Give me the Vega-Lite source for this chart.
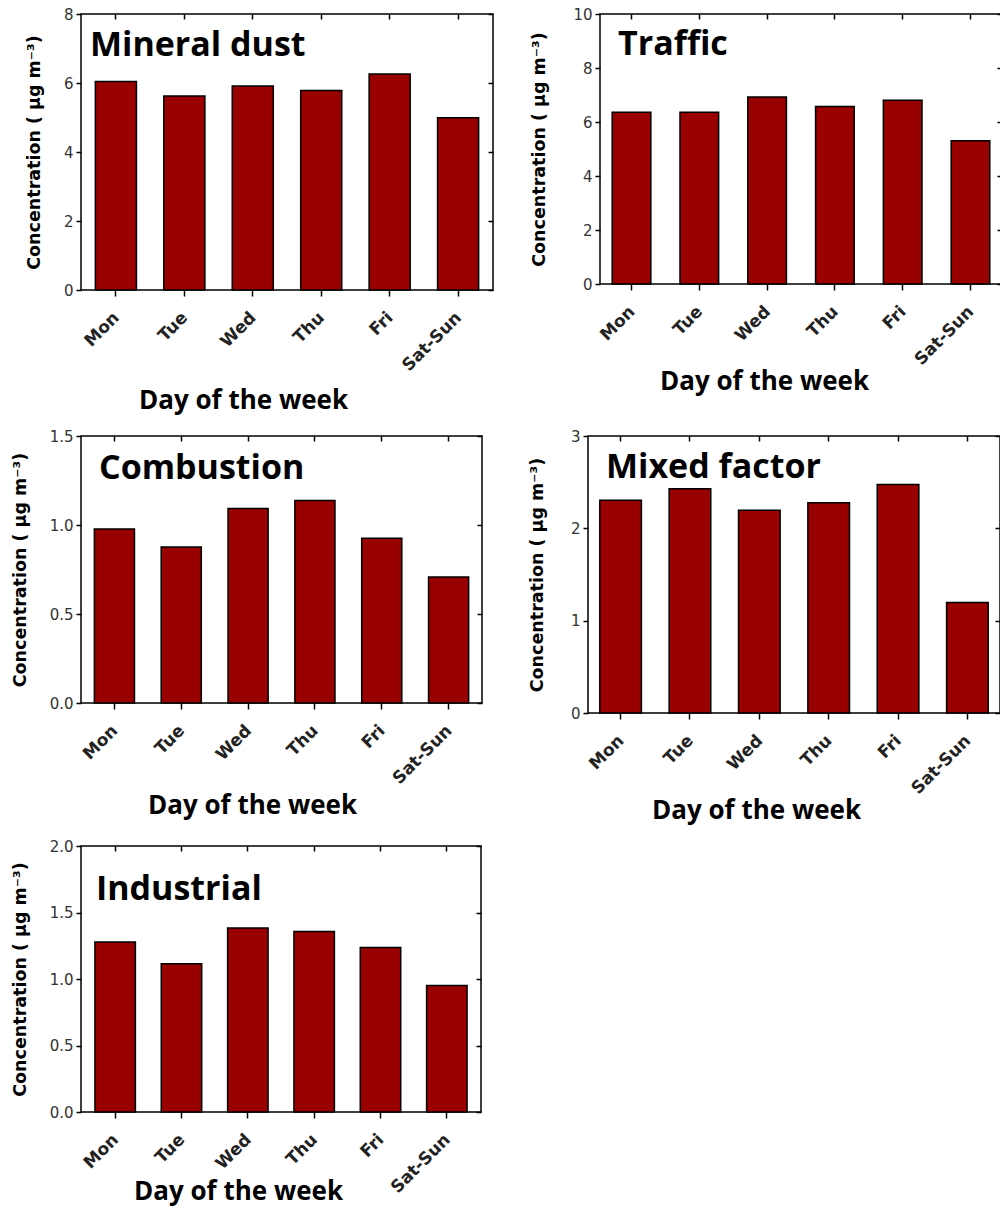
{
  "$schema": "https://vega.github.io/schema/vega-lite/v6.json",
  "padding": {"left": 10, "top": 6, "right": 0, "bottom": 0},
  "background": "white",
  "config": {
    "view": {"stroke": "#000", "strokeWidth": 1.5},
    "axis": {"grid": false, "domain": false, "tickColor": "#000", "tickWidth": 1.5, "labelFont": "DejaVu Sans", "labelColor": "#333", "titleColor": "#000"},
    "axisBottom": {"labelAngle": -45, "labelFontWeight": "bold", "labelFontSize": 17, "labelColor": "#222", "labelPadding": 13, "labelOffset": -5, "tickSize": 6, "titleFont": "Open Sans", "titleFontSize": 26, "titleFontWeight": "bold"},
    "axisLeft": {"labelFontSize": 15, "labelPadding": 3, "tickSize": 5, "titleFont": "DejaVu Sans", "titleFontSize": 17.5, "titleFontWeight": "bold"},
    "axisTop": {"labels": false, "tickSize": -5},
    "axisRight": {"labels": false, "tickSize": -5},
    "bar": {"color": "#990000", "stroke": "#000", "strokeWidth": 1.5},
    "title": {"font": "Open Sans", "fontWeight": "bold", "fontSize": 34, "color": "#000", "anchor": "start", "frame": "group", "orient": "top", "offset": 0, "baseline": "alphabetic"}
  },
  "columns": 1,
  "align": "none",
  "spacing": 13,
  "concat": [
    {
      "spacing": 35,
      "hconcat": [
        {
          "width": 412, "height": 276,
          "title": {"text": "Mineral dust", "dx": 9, "dy": 60},
          "data": {"values": [
            {"day": "Mon", "value": 6.04}, {"day": "Tue", "value": 5.62}, {"day": "Wed", "value": 5.91},
            {"day": "Thu", "value": 5.78}, {"day": "Fri", "value": 6.26}, {"day": "Sat-Sun", "value": 4.99}]},
          "layer": [
            {"mark": "bar",
             "encoding": {
               "x": {"field": "day", "type": "nominal", "sort": ["Mon","Tue","Wed","Thu","Fri","Sat-Sun"], "scale": {"paddingInner": 0.4, "paddingOuter": 0.21},
                     "axis": {"orient": "bottom", "title": "Day of the week", "titlePadding": 14, "titleX": 162}},
               "y": {"field": "value", "type": "quantitative", "scale": {"domain": [0, 8], "nice": false},
                     "axis": {"orient": "left", "values": [0,2,4,6,8], "title": "Concentration ( µg m⁻³)", "titlePadding": 19.5}}
             }},
            {"mark": {"type": "bar", "opacity": 0, "strokeOpacity": 0},
             "encoding": {
               "x": {"field": "day", "type": "nominal", "sort": ["Mon","Tue","Wed","Thu","Fri","Sat-Sun"], "axis": {"orient": "top", "title": null}},
               "y": {"field": "value", "type": "quantitative", "axis": {"orient": "right", "values": [0,2,4,6,8], "title": null}}
             }}
          ],
          "resolve": {"axis": {"x": "independent", "y": "independent"}}
        },
        {
          "width": 402, "height": 270,
          "title": {"text": "Traffic", "dx": 18, "dy": 59},
          "data": {"values": [
            {"day": "Mon", "value": 6.36}, {"day": "Tue", "value": 6.36}, {"day": "Wed", "value": 6.93},
            {"day": "Thu", "value": 6.57}, {"day": "Fri", "value": 6.81}, {"day": "Sat-Sun", "value": 5.31}]},
          "layer": [
            {"mark": "bar",
             "encoding": {
               "x": {"field": "day", "type": "nominal", "sort": ["Mon","Tue","Wed","Thu","Fri","Sat-Sun"], "scale": {"paddingInner": 0.43, "paddingOuter": 0.18},
                     "axis": {"orient": "bottom", "title": "Day of the week", "titlePadding": 1, "titleX": 164}},
               "y": {"field": "value", "type": "quantitative", "scale": {"domain": [0, 10], "nice": false},
                     "axis": {"orient": "left", "values": [0,2,4,6,8,10], "title": "Concentration ( µg m⁻³)", "titlePadding": 24}}
             }},
            {"mark": {"type": "bar", "opacity": 0, "strokeOpacity": 0},
             "encoding": {
               "x": {"field": "day", "type": "nominal", "sort": ["Mon","Tue","Wed","Thu","Fri","Sat-Sun"], "axis": {"orient": "top", "title": null}},
               "y": {"field": "value", "type": "quantitative", "axis": {"orient": "right", "values": [0,2,4,6,8,10], "title": null}}
             }}
          ],
          "resolve": {"axis": {"x": "independent", "y": "independent"}}
        }
      ]
    },
    {
      "spacing": 44,
      "hconcat": [
        {
          "width": 401, "height": 267,
          "title": {"text": "Combustion", "dx": 18, "dy": 61},
          "data": {"values": [
            {"day": "Mon", "value": 0.977}, {"day": "Tue", "value": 0.876}, {"day": "Wed", "value": 1.092},
            {"day": "Thu", "value": 1.137}, {"day": "Fri", "value": 0.925}, {"day": "Sat-Sun", "value": 0.708}]},
          "layer": [
            {"mark": "bar",
             "encoding": {
               "x": {"field": "day", "type": "nominal", "sort": ["Mon","Tue","Wed","Thu","Fri","Sat-Sun"], "scale": {"paddingInner": 0.4, "paddingOuter": 0.2},
                     "axis": {"orient": "bottom", "title": "Day of the week", "titlePadding": 6, "titleX": 171}},
               "y": {"field": "value", "type": "quantitative", "scale": {"domain": [0, 1.5], "nice": false},
                     "axis": {"orient": "left", "values": [0,0.5,1,1.5], "format": ".1f", "title": "Concentration ( µg m⁻³)", "titlePadding": 20}}
             }},
            {"mark": {"type": "bar", "opacity": 0, "strokeOpacity": 0},
             "encoding": {
               "x": {"field": "day", "type": "nominal", "sort": ["Mon","Tue","Wed","Thu","Fri","Sat-Sun"], "axis": {"orient": "top", "title": null}},
               "y": {"field": "value", "type": "quantitative", "axis": {"orient": "right", "values": [0,0.5,1,1.5], "title": null}}
             }}
          ],
          "resolve": {"axis": {"x": "independent", "y": "independent"}}
        },
        {
          "width": 412, "height": 277,
          "title": {"text": "Mixed factor", "dx": 18, "dy": 60},
          "data": {"values": [
            {"day": "Mon", "value": 2.305}, {"day": "Tue", "value": 2.43}, {"day": "Wed", "value": 2.197},
            {"day": "Thu", "value": 2.277}, {"day": "Fri", "value": 2.476}, {"day": "Sat-Sun", "value": 1.198}]},
          "layer": [
            {"mark": "bar",
             "encoding": {
               "x": {"field": "day", "type": "nominal", "sort": ["Mon","Tue","Wed","Thu","Fri","Sat-Sun"], "scale": {"paddingInner": 0.4, "paddingOuter": 0.17},
                     "axis": {"orient": "bottom", "title": "Day of the week", "titlePadding": 1, "titleX": 168}},
               "y": {"field": "value", "type": "quantitative", "scale": {"domain": [0, 3], "nice": false},
                     "axis": {"orient": "left", "values": [0,1,2,3], "title": "Concentration ( µg m⁻³)", "titlePadding": 23.5}}
             }},
            {"mark": {"type": "bar", "opacity": 0, "strokeOpacity": 0},
             "encoding": {
               "x": {"field": "day", "type": "nominal", "sort": ["Mon","Tue","Wed","Thu","Fri","Sat-Sun"], "axis": {"orient": "top", "title": null}},
               "y": {"field": "value", "type": "quantitative", "axis": {"orient": "right", "values": [0,1,2,3], "title": null}}
             }}
          ],
          "resolve": {"axis": {"x": "independent", "y": "independent"}}
        }
      ]
    },
    {
      "width": 400, "height": 266,
      "title": {"text": "Industrial", "dx": 15, "dy": 72},
      "data": {"values": [
        {"day": "Mon", "value": 1.278}, {"day": "Tue", "value": 1.115}, {"day": "Wed", "value": 1.383},
        {"day": "Thu", "value": 1.358}, {"day": "Fri", "value": 1.236}, {"day": "Sat-Sun", "value": 0.952}]},
      "layer": [
        {"mark": "bar",
         "encoding": {
           "x": {"field": "day", "type": "nominal", "sort": ["Mon","Tue","Wed","Thu","Fri","Sat-Sun"], "scale": {"paddingInner": 0.39, "paddingOuter": 0.21},
                 "axis": {"orient": "bottom", "title": "Day of the week", "titlePadding": -17, "titleX": 157}},
           "y": {"field": "value", "type": "quantitative", "scale": {"domain": [0, 2], "nice": false},
                 "axis": {"orient": "left", "values": [0,0.5,1,1.5,2], "format": ".1f", "title": "Concentration ( µg m⁻³)", "titlePadding": 20}}
         }},
        {"mark": {"type": "bar", "opacity": 0, "strokeOpacity": 0},
         "encoding": {
           "x": {"field": "day", "type": "nominal", "sort": ["Mon","Tue","Wed","Thu","Fri","Sat-Sun"], "axis": {"orient": "top", "title": null}},
           "y": {"field": "value", "type": "quantitative", "axis": {"orient": "right", "values": [0,0.5,1,1.5,2], "title": null}}
         }}
      ],
      "resolve": {"axis": {"x": "independent", "y": "independent"}}
    }
  ]
}
